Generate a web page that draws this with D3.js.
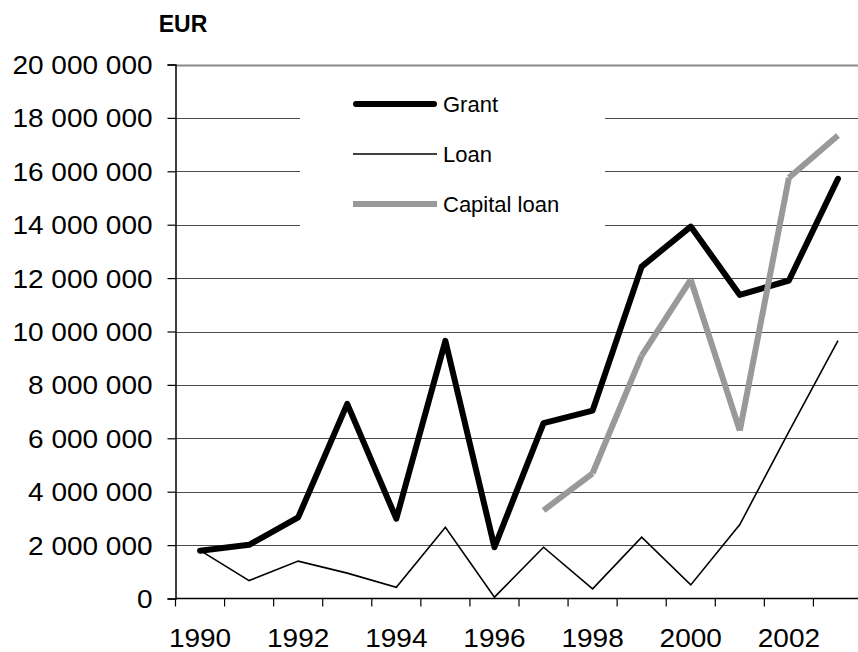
<!DOCTYPE html>
<html>
<head>
<meta charset="utf-8">
<script src="https://cdn.jsdelivr.net/npm/d3@7"></script>
<style>
  html, body { margin: 0; padding: 0; background: #fff; }
  svg { display: block; font-family: "Liberation Sans", Arial, sans-serif; }
</style>
</head>
<body>
<svg id="chart" width="858" height="652"></svg>
<script>
// Yearly amounts in EUR
const years = [1990, 1991, 1992, 1993, 1994, 1995, 1996, 1997, 1998, 1999, 2000, 2001, 2002, 2003];
const grant = [1790000, 2010000, 3040000, 7290000, 2990000, 9650000, 1920000, 6570000, 7040000, 12430000, 13930000, 11370000, 11910000, 15720000];
const loan = [1800000, 670000, 1400000, 950000, 420000, 2670000, 50000, 1920000, 360000, 2300000, 510000, 2770000, 6250000, 9660000];
const capitalLoan = [null, null, null, null, null, null, null, 3300000, 4690000, 9100000, 11940000, 6290000, 15760000, 17340000];
const yTicks = [0, 2000000, 4000000, 6000000, 8000000, 10000000, 12000000, 14000000, 16000000, 18000000, 20000000];
const labelYears = [1990, 1992, 1994, 1996, 1998, 2000, 2002];
const seriesNames = ["Grant", "Loan", "Capital loan"];

const svg = d3.select("#chart");
const plotLeft = 175.5, plotRight = 862.5, plotTop = 64.5, plotBottom = 598.5;

const x = d3.scaleBand().domain(years).range([plotLeft, plotRight]).padding(0);
const y = d3.scaleLinear().domain([0, 20000000]).range([plotBottom, plotTop]);
const cx = d => x(d) + x.bandwidth() / 2;

const fmt = v => d3.format(",")(v).replace(/,/g, " ");

// horizontal gridlines
svg.append("g").selectAll("line").data(yTicks.filter(v => v > 0)).join("line")
  .attr("x1", plotLeft).attr("x2", plotRight)
  .attr("y1", d => Math.round(y(d)) + 0.5).attr("y2", d => Math.round(y(d)) + 0.5)
  .attr("stroke", d => d === 20000000 ? "#8a8a8a" : "#4a4a4a")
  .attr("stroke-width", d => d === 20000000 ? 2 : 1.2);

// legend backdrop hides the gridlines behind it
svg.append("rect").attr("x", 300).attr("y", 74).attr("width", 305).attr("height", 162).attr("fill", "#fff");

// y axis
const yAxis = svg.append("g").attr("transform", `translate(${plotLeft},0)`)
  .call(d3.axisLeft(y).tickValues(yTicks).tickSize(8).tickFormat(fmt));
yAxis.select(".domain").attr("stroke", "#000").attr("stroke-width", 1.5);
yAxis.selectAll(".tick line").attr("stroke", "#000").attr("stroke-width", 1.2);
yAxis.selectAll(".tick text")
  .attr("font-size", 25).attr("fill", "#000")
  .attr("x", -20.5).attr("dy", "0.36em")
  .attr("font-family", "Liberation Sans, Arial, sans-serif")
  .attr("transform", "scale(1.12,1)");

// x axis: baseline, boundary ticks and every second year label
const xg = svg.append("g");
xg.append("line").attr("x1", plotLeft).attr("x2", plotRight).attr("y1", plotBottom).attr("y2", plotBottom)
  .attr("stroke", "#000").attr("stroke-width", 1.5);
xg.selectAll("line.tick").data(years).join("line").attr("class", "tick")
  .attr("x1", d => x(d)).attr("x2", d => x(d))
  .attr("y1", plotBottom).attr("y2", plotBottom + 8)
  .attr("stroke", "#000").attr("stroke-width", 1.2);
xg.selectAll("text").data(labelYears).join("text")
  .attr("transform", d => `translate(${cx(d)},${plotBottom + 48}) scale(1.12,1)`)
  .attr("text-anchor", "middle").attr("font-size", 25).attr("fill", "#000")
  .text(d => d);

// series lines
const line = d3.line().defined(d => d[1] != null).x(d => cx(d[0])).y(d => y(d[1]));

svg.append("path").datum(years.map((yr, i) => [yr, loan[i]]))
  .attr("d", line).attr("fill", "none").attr("stroke", "#000").attr("stroke-width", 1.6)
  .attr("stroke-linejoin", "miter");

svg.append("path").datum(years.map((yr, i) => [yr, grant[i]]))
  .attr("d", line).attr("fill", "none").attr("stroke", "#000").attr("stroke-width", 6)
  .attr("stroke-linejoin", "round").attr("stroke-linecap", "round");

// capital loan drawn segment by segment
const capPts = years.map((yr, i) => [yr, capitalLoan[i]]).filter(d => d[1] != null);
const capSegs = d3.pairs(capPts);
svg.append("g").selectAll("line").data(capSegs).join("line")
  .attr("x1", d => cx(d[0][0])).attr("y1", d => y(d[0][1]))
  .attr("x2", d => cx(d[1][0])).attr("y2", d => y(d[1][1]))
  .attr("stroke", "#999999").attr("stroke-width", 6).attr("stroke-linecap", "butt");

// legend
const legendRows = [
  { name: seriesNames[0], color: "#000", width: 6, cap: "round", yPos: 104 },
  { name: seriesNames[1], color: "#000", width: 1.6, cap: "butt", yPos: 154 },
  { name: seriesNames[2], color: "#999999", width: 6, cap: "butt", yPos: 204 }
];
const lg = svg.append("g");
lg.selectAll("line").data(legendRows).join("line")
  .attr("x1", d => d.cap === "round" ? 356 : 353).attr("x2", d => d.cap === "round" ? 434 : 437)
  .attr("y1", d => d.yPos).attr("y2", d => d.yPos)
  .attr("stroke", d => d.color).attr("stroke-width", d => d.width).attr("stroke-linecap", d => d.cap);
lg.selectAll("text").data(legendRows).join("text")
  .attr("x", 443).attr("y", d => d.yPos).attr("dy", "0.36em")
  .attr("font-size", 22).attr("fill", "#000")
  .text(d => d.name);

// unit title
svg.append("text").attr("x", 183).attr("y", 32).attr("text-anchor", "middle")
  .attr("font-size", 23).attr("font-weight", "bold").attr("fill", "#000").text("EUR");
</script>
</body>
</html>
